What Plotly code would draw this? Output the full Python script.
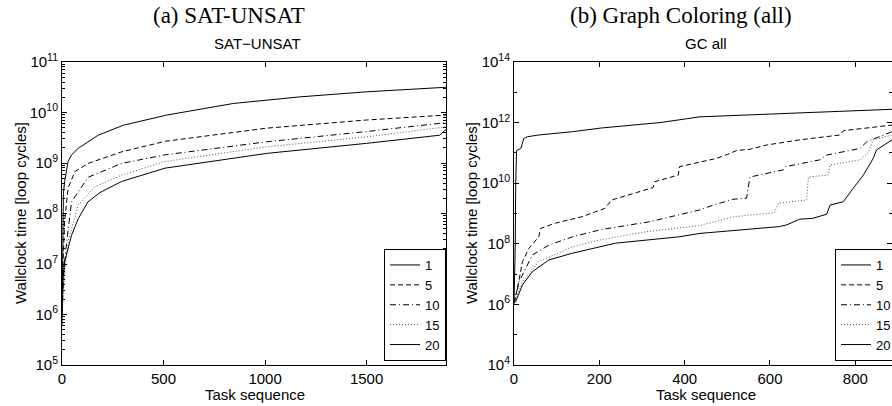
import plotly.graph_objects as go

# ---------------- data ----------------
series_names = ["1", "5", "10", "15", "20"]

# (a) SAT-UNSAT : task index and wallclock time [loop cycles]
sat_x_1 = [0, 3, 7, 13, 30, 47, 80, 178, 302, 516, 844, 1172, 1500, 1891]
sat_y_1 = [6e5, 1.0e8, 2.5e8, 4.3e8, 1.07e9, 1.45e9, 1.95e9, 3.55e9, 5.6e9, 8.9e9, 1.51e10, 2.04e10, 2.57e10, 3.16e10]

sat_x_5 = [0, 5, 13, 30, 64, 128, 293, 510, 1008, 1500, 1891]
sat_y_5 = [1e6, 1.0e7, 6.9e7, 3.2e8, 6.8e8, 9.8e8, 1.66e9, 2.7e9, 4.9e9, 7.1e9, 8.9e9]

sat_x_10 = [0, 10, 23, 47, 128, 293, 507, 1008, 1500, 1891]
sat_y_10 = [1e6, 8e6, 2.75e7, 1.7e8, 5.2e8, 9.8e8, 1.45e9, 2.63e9, 4.2e9, 6.3e9]

sat_x_15 = [0, 15, 30, 80, 163, 293, 507, 1008, 1500, 1891]
sat_y_15 = [1e6, 8e6, 2.75e7, 1.48e8, 3.4e8, 5.75e8, 1.07e9, 2.1e9, 3.3e9, 5.2e9]

sat_x_20 = [0, 5, 13, 47, 80, 128, 187, 293, 507, 1008, 1500, 1860, 1891]
sat_y_20 = [1e6, 5e6, 1.12e7, 3.7e7, 7.9e7, 1.7e8, 2.6e8, 4.3e8, 7.9e8, 1.55e9, 2.45e9, 3.55e9, 4.6e9]

# (b) Graph Coloring (all)
gc_x_1 = [0, 3, 4, 6, 16, 20, 23, 31, 58, 137, 203, 303, 342, 436, 553, 622, 700, 886]
gc_y_1 = [1.1e6, 1e8, 1e10, 1.2e11, 1.4e11, 2.0e11, 3.0e11, 3.4e11, 3.9e11, 5.0e11, 6.6e11, 8.9e11, 1.0e12, 1.55e12, 1.78e12, 2.0e12, 2.15e12, 2.75e12]

gc_x_5 = [0, 8, 20, 35, 58, 62, 97, 159, 213, 229, 287, 326, 330, 385, 388, 436, 475, 500, 522, 553, 592, 670, 764, 772, 886]
gc_y_5 = [1.1e6, 3.4e6, 2.6e7, 7.1e7, 1.7e8, 3.2e8, 4.8e8, 7.8e8, 1.48e9, 2.8e9, 4.9e9, 7.2e9, 1.12e10, 1.86e10, 3.5e10, 5.1e10, 6.6e10, 8.9e10, 1.2e11, 1.32e11, 1.82e11, 2.7e11, 3.9e11, 5.4e11, 8.3e11]

gc_x_10 = [0, 12, 43, 82, 137, 202, 319, 436, 467, 514, 545, 550, 553, 631, 636, 717, 733, 811, 827, 886]
gc_y_10 = [1.1e6, 5.6e6, 4.3e7, 9.1e7, 1.7e8, 2.9e8, 5.4e8, 1.32e9, 1.9e9, 2.95e9, 3.2e9, 1.1e10, 1.6e10, 2.75e10, 3.5e10, 5.9e10, 8.5e10, 1.4e11, 2.35e11, 5.0e11]

gc_x_15 = [0, 20, 58, 137, 202, 309, 436, 514, 553, 610, 620, 686, 690, 737, 741, 811, 830, 842, 886]
gc_y_15 = [1.1e6, 5.6e6, 2.6e7, 7.9e7, 1.35e8, 2.5e8, 4.0e8, 7.8e8, 8.9e8, 1.05e9, 2.2e9, 2.8e9, 1.6e10, 1.86e10, 4.0e10, 5.9e10, 1.0e11, 2.7e11, 3.9e11]

gc_x_20 = [0, 4, 20, 43, 82, 137, 238, 387, 436, 622, 639, 670, 700, 733, 741, 772, 795, 819, 842, 850, 886]
gc_y_20 = [1.1e6, 1.23e6, 4.4e6, 1.2e7, 2.95e7, 4.9e7, 1.05e8, 1.7e8, 2.2e8, 3.7e8, 4.2e8, 6.5e8, 6.9e8, 9.5e8, 1.9e9, 2.45e9, 6.8e9, 1.86e10, 6.6e10, 1.26e11, 2.7e11]

sat_series = [(sat_x_1, sat_y_1), (sat_x_5, sat_y_5), (sat_x_10, sat_y_10), (sat_x_15, sat_y_15), (sat_x_20, sat_y_20)]
gc_series = [(gc_x_1, gc_y_1), (gc_x_5, gc_y_5), (gc_x_10, gc_y_10), (gc_x_15, gc_y_15), (gc_x_20, gc_y_20)]

sat_xticks = [0, 500, 1000, 1500]
gc_xticks = [0, 200, 400, 600, 800]
sat_yexp = [5, 6, 7, 8, 9, 10, 11]
gc_yexp = [4, 6, 8, 10, 12, 14]

# ---------------- styling ----------------
W, H = 892, 406
T, B = 62, 41
plot_h = H - T - B
SANS = "Liberation Sans, Arial, sans-serif"
SERIF = "Liberation Serif, Times New Roman, serif"
dashes = ["solid", "5px,3px", "6px,3px,1px,3px", "1px,2px", "solid"]
colors = ["#000000", "#000000", "#000000", "#555555", "#000000"]

fig = go.Figure()
for i, (xs, ys) in enumerate(sat_series):
    fig.add_trace(go.Scatter(x=xs, y=ys, mode="lines", name=series_names[i],
                             line=dict(color=colors[i], width=1, dash=dashes[i]),
                             xaxis="x", yaxis="y", legend="legend"))
for i, (xs, ys) in enumerate(gc_series):
    fig.add_trace(go.Scatter(x=xs, y=ys, mode="lines", name=series_names[i],
                             line=dict(color=colors[i], width=1, dash=dashes[i]),
                             xaxis="x2", yaxis="y2", legend="legend2"))

def xax(domain, rng, ticks, anchor):
    return dict(domain=domain, range=rng, anchor=anchor, tickvals=ticks,
                ticktext=[str(t) for t in ticks], ticks="inside", ticklen=5,
                tickcolor="black", showline=True, linecolor="black", linewidth=1,
                mirror="ticks", showgrid=False, zeroline=False,
                tickfont=dict(family=SANS, size=15, color="black"))

def yax(rng, exps, minor_vals, anchor):
    return dict(type="log", range=rng, anchor=anchor, domain=[0, 1],
                tickvals=[10 ** e for e in exps],
                ticktext=["10<sup>%d</sup>" % e for e in exps],
                ticks="inside", ticklen=5, tickcolor="black", showline=True,
                linecolor="black", linewidth=1, mirror="ticks", showgrid=False,
                zeroline=False, tickfont=dict(family=SANS, size=15, color="black"),
                minor=dict(tickvals=minor_vals, ticks="inside", ticklen=3, tickcolor="black"))

sat_minor = [m * 10 ** e for e in range(5, 11) for m in range(2, 10)]
gc_minor = [10 ** e for e in range(5, 14, 2)]

legend_style = dict(bgcolor="white", bordercolor="black", borderwidth=1,
                    font=dict(family=SANS, size=13, color="black"),
                    itemwidth=30, tracegroupgap=0, yanchor="bottom")

fig.update_layout(
    width=W, height=H, margin=dict(l=0, r=0, t=T, b=B, autoexpand=False),
    paper_bgcolor="white", plot_bgcolor="white",
    xaxis=xax([62 / W, 446 / W], [0, 1891], sat_xticks, "y"),
    yaxis=yax([5, 11], sat_yexp, sat_minor, "x"),
    xaxis2=xax([514 / W, 1.0], [0, 886], gc_xticks, "y2"),
    yaxis2=yax([4, 14], gc_yexp, gc_minor, "x2"),
    legend=dict(x=446 / W, xanchor="right", y=4 / plot_h, **legend_style),
    legend2=dict(x=835 / W, xanchor="left", y=4 / plot_h, **legend_style),
    showlegend=True,
)

def ann(text, x, y, size, family, angle=0):
    fig.add_annotation(text=text, xref="paper", yref="paper",
                       x=x / W, y=(H - B - y) / plot_h, showarrow=False,
                       xanchor="center", yanchor="middle", textangle=angle,
                       font=dict(family=family, size=size, color="black"))

ann("(a) SAT-UNSAT", 229, 15, 23, SERIF)
ann("(b) Graph Coloring (all)", 681, 15, 23, SERIF)
ann("SAT\u2212UNSAT", 257, 44, 15, SANS)
ann("GC all", 706, 44, 15, SANS)
ann("Task sequence", 255, 394, 15, SANS)
ann("Task sequence", 706, 394, 15, SANS)
ann("Wallclock time [loop cycles]", 20, 213, 15, SANS, -90)
ann("Wallclock time [loop cycles]", 471, 213, 15, SANS, -90)

fig.write_html("out.html", config={"displayModeBar": False},
               post_script="document.body.style.margin='0';document.body.style.overflow='hidden';")
